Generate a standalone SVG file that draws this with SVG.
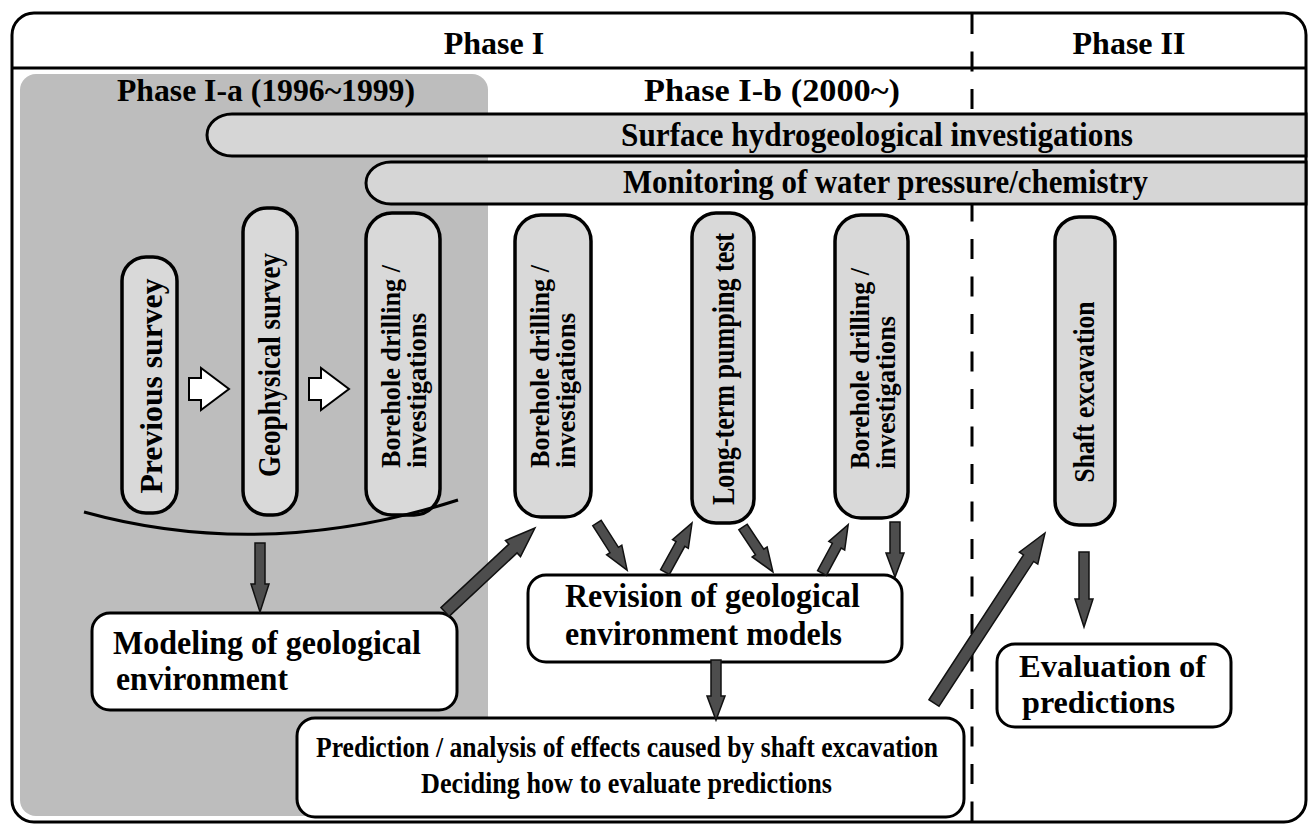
<svg xmlns="http://www.w3.org/2000/svg" width="1313" height="828" viewBox="0 0 1313 828">
<style>
.t{font-family:"Liberation Serif","Times New Roman",serif;font-weight:bold;fill:#000}
.h{font-size:32px;text-anchor:middle}
.bt{font-size:34px}
.pt{font-size:27px}
.box{fill:#fff;stroke:#000;stroke-width:3}
.pill{fill:#d9d9d9;stroke:#000;stroke-width:3.5}
.bar{fill:#d6d6d6;stroke:#000;stroke-width:3}
.dark{fill:#4d4d4d;stroke:#111;stroke-width:1.5}
.blk{fill:#fff;stroke:#000;stroke-width:2}
.ln{fill:none;stroke:#000;stroke-width:3}
</style>
<g id="frame">
<rect x="12" y="13" width="1294" height="809" rx="22" fill="#fff" stroke="#000" stroke-width="3"/>
<path d="M36,74 H472 A16,16 0 0 1 488,90 V816 H36 A16,16 0 0 1 20,800 V90 A16,16 0 0 1 36,74 Z" fill="#bdbdbd"/>
<line x1="12" y1="68" x2="1306" y2="68" class="ln"/>
<line x1="972" y1="14" x2="972" y2="821" stroke="#000" stroke-width="3" stroke-dasharray="20 17.5"/>
<text class="t h" x="494" y="54">Phase I</text>
<text class="t h" x="1129" y="54">Phase II</text>
<text class="t h" x="266" y="101" font-size="31" textLength="298" lengthAdjust="spacingAndGlyphs">Phase I-a (1996~1999)</text>
<text class="t h" x="772" y="101" font-size="31" textLength="256" lengthAdjust="spacingAndGlyphs">Phase I-b (2000~)</text>
</g>
<g id="surface">
<path class="bar" d="M1306,114 H232 A25,21 0 0 0 232,156 H1306 Z"/>
<text class="t bt" x="621" y="146" textLength="512" lengthAdjust="spacingAndGlyphs">Surface hydrogeological investigations</text>
</g>
<g id="monitoring">
<path class="bar" d="M1306,162 H391 A25,21 0 0 0 391,204 H1306 Z"/>
<text class="t bt" x="623" y="193" textLength="525" lengthAdjust="spacingAndGlyphs">Monitoring of water pressure/chemistry</text>
</g>
<g id="previous">
<rect class="pill" x="122" y="257" width="55" height="256" rx="24"/>
<text class="t" font-size="32" text-anchor="middle" transform="translate(162,386) rotate(-90)" textLength="215" lengthAdjust="spacingAndGlyphs">Previous survey</text>
</g>
<g id="geophysical">
<rect class="pill" x="243" y="208" width="54" height="307" rx="24"/>
<text class="t" font-size="32" text-anchor="middle" transform="translate(280,365) rotate(-90)" textLength="224" lengthAdjust="spacingAndGlyphs">Geophysical survey</text>
</g>
<g id="borehole1">
<rect class="pill" x="366" y="213" width="74" height="302" rx="26"/>
<text class="t pt" transform="translate(400,468) rotate(-90)" textLength="203" lengthAdjust="spacingAndGlyphs">Borehole drilling /</text>
<text class="t pt" transform="translate(426,468) rotate(-90)" textLength="155" lengthAdjust="spacingAndGlyphs">investigations</text>
</g>
<g id="borehole2">
<rect class="pill" x="515" y="215" width="76" height="302" rx="26"/>
<text class="t pt" transform="translate(549,468) rotate(-90)" textLength="203" lengthAdjust="spacingAndGlyphs">Borehole drilling /</text>
<text class="t pt" transform="translate(575,468) rotate(-90)" textLength="155" lengthAdjust="spacingAndGlyphs">investigations</text>
</g>
<g id="pumping">
<rect class="pill" x="692" y="213" width="62" height="310" rx="24"/>
<text class="t" font-size="31" text-anchor="middle" transform="translate(734,369) rotate(-90)" textLength="272" lengthAdjust="spacingAndGlyphs">Long-term pumping test</text>
</g>
<g id="borehole3">
<rect class="pill" x="835" y="215" width="73" height="303" rx="26"/>
<text class="t pt" transform="translate(869,469) rotate(-90)" textLength="201" lengthAdjust="spacingAndGlyphs">Borehole drilling /</text>
<text class="t pt" transform="translate(895,469) rotate(-90)" textLength="153" lengthAdjust="spacingAndGlyphs">investigations</text>
</g>
<g id="shaft">
<rect class="pill" x="1055" y="217" width="60" height="308" rx="24"/>
<text class="t" font-size="29" text-anchor="middle" transform="translate(1094,392) rotate(-90)" textLength="181" lengthAdjust="spacingAndGlyphs">Shaft excavation</text>
</g>
<g id="modeling">
<rect class="box" x="92" y="613" width="365" height="97" rx="18"/>
<text class="t bt" x="113" y="654" textLength="308" lengthAdjust="spacingAndGlyphs">Modeling of geological</text>
<text class="t bt" x="116" y="690" textLength="172" lengthAdjust="spacingAndGlyphs">environment</text>
</g>
<g id="revision">
<rect class="box" x="528" y="575" width="374" height="87" rx="18"/>
<text class="t bt" x="565" y="607" textLength="295" lengthAdjust="spacingAndGlyphs">Revision of geological</text>
<text class="t bt" x="565" y="645" textLength="277" lengthAdjust="spacingAndGlyphs">environment models</text>
</g>
<g id="prediction">
<rect class="box" x="297" y="718" width="667" height="99" rx="18"/>
<text class="t" font-size="29" x="316" y="757" textLength="622" lengthAdjust="spacingAndGlyphs">Prediction / analysis of effects caused by shaft excavation</text>
<text class="t" font-size="29" x="421" y="793" textLength="411" lengthAdjust="spacingAndGlyphs">Deciding how to evaluate predictions</text>
</g>
<g id="evaluation">
<rect class="box" x="997" y="644" width="234" height="83" rx="18"/>
<text class="t" font-size="32" x="1019" y="677" textLength="187" lengthAdjust="spacingAndGlyphs">Evaluation of</text>
<text class="t" font-size="32" x="1022" y="713" textLength="153" lengthAdjust="spacingAndGlyphs">predictions</text>
</g>
<g id="connectors">
<path class="blk" d="M189,378 H201 V368 L229,389 L201,410 V400 H189 Z"/>
<path class="blk" d="M309,378 H321 V368 L349,389 L321,410 V400 H309 Z"/>
<path class="ln" d="M84,512 Q265,562 458,500"/>
<polygon class="dark" transform="translate(260,543) rotate(90)" points="0,-5 41,-5 41,-9 69,0 41,9 41,5 0,5"/>
<polygon class="dark" transform="translate(445,612) rotate(-43.03)" points="0,-6 93,-6 93,-11 123,0 93,11 93,6 0,6"/>
<polygon class="dark" transform="translate(597,523) rotate(57.45)" points="0,-5 32,-5 32,-9 56,0 32,9 32,5 0,5"/>
<polygon class="dark" transform="translate(665,572) rotate(-61.15)" points="0,-5 32,-5 32,-9 56,0 32,9 32,5 0,5"/>
<polygon class="dark" transform="translate(743,527) rotate(56.31)" points="0,-5 30,-5 30,-9 54,0 30,9 30,5 0,5"/>
<polygon class="dark" transform="translate(822,573) rotate(-61.56)" points="0,-5 31,-5 31,-9 55,0 31,9 31,5 0,5"/>
<polygon class="dark" transform="translate(895,522) rotate(90)" points="0,-5 31,-5 31,-9 55,0 31,9 31,5 0,5"/>
<polygon class="dark" transform="translate(716,660) rotate(90)" points="0,-5 36,-5 36,-9 60,0 36,9 36,5 0,5"/>
<polygon class="dark" transform="translate(934,703) rotate(-56.86)" points="0,-6 173,-6 173,-11 203,0 173,11 173,6 0,6"/>
<polygon class="dark" transform="translate(1084,552) rotate(90)" points="0,-5 47,-5 47,-9 75,0 47,9 47,5 0,5"/>
</g>
</svg>
